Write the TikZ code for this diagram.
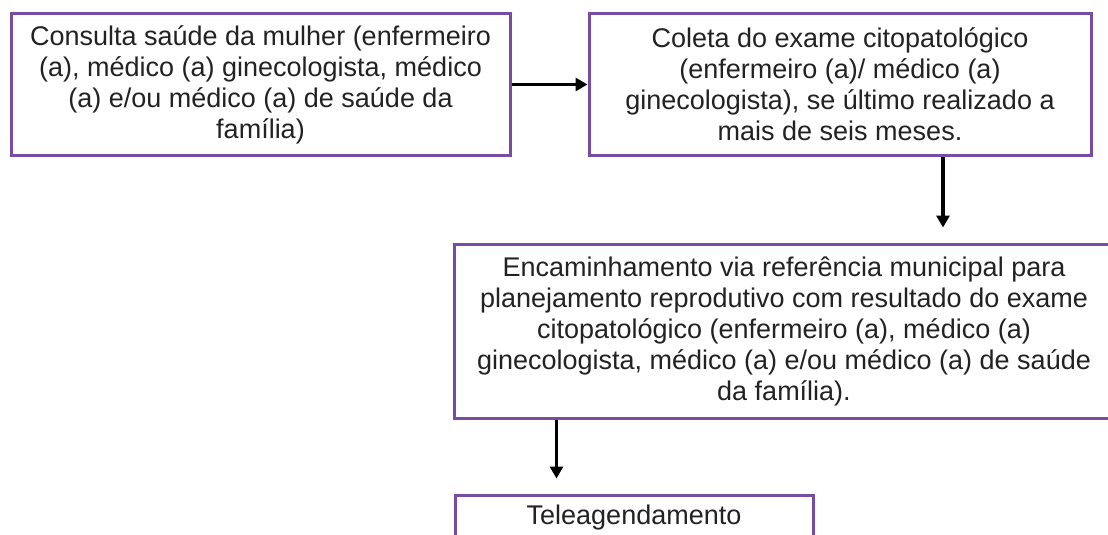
\documentclass[tikz,border=0pt]{standalone}
\usepackage{fontspec}
\setmainfont{Liberation Sans}
\usetikzlibrary{arrows.meta,calc}
\definecolor{boxpurple}{RGB}{120,76,162}
\definecolor{txt}{RGB}{34,34,34}
\begin{document}
\begin{tikzpicture}[x=1pt,y=-1pt,
  flowbox/.style={draw=boxpurple,line width=3pt,fill=white,align=center,inner sep=0pt,text=txt,font=\fontsize{27pt}{31pt}\selectfont},
  arr/.style={draw=black,line width=3.2pt,-{Triangle[length=12pt,width=13pt]}}]
\useasboundingbox (0,0) rectangle (1108,535);
\clip (0,0) rectangle (1108,535);
\fill[white] (0,0) rectangle (1108,535);
\node[flowbox,minimum width=499pt,minimum height=141pt] (b1) at (260.5,84.5)
  {Consulta saúde da mulher (enfermeiro\\(a), médico (a) ginecologista, médico\\(a) e/ou médico (a) de saúde da\\família)};
\node[flowbox,minimum width=502pt,minimum height=141pt] (b2) at (840,84.5)
  {Coleta do exame citopatológico\\(enfermeiro (a)/ médico (a)\\ginecologista), se último realizado a\\mais de seis meses.};
\node[flowbox,minimum width=660pt,minimum height=174pt] (b3) at (784,331)
  {Encaminhamento via referência municipal para\\planejamento reprodutivo com resultado do exame\\citopatológico (enfermeiro (a), médico (a)\\ginecologista, médico (a) e/ou médico (a) de saúde\\da família).};
\node[flowbox,minimum width=358pt,minimum height=46pt] (b4) at (634,518)
  {Teleagendamento};
\draw[arr] (b1.east) -- (b2.west);
\draw[arr,shorten >=15pt] ([xshift=103pt]b2.south) -- ([xshift=103pt]b2.south |- b3.north);
\draw[arr,shorten >=15pt] ([xshift=104pt]b3.south west) -- ([xshift=104pt]b3.south west |- b4.north);
\end{tikzpicture}
\end{document}
